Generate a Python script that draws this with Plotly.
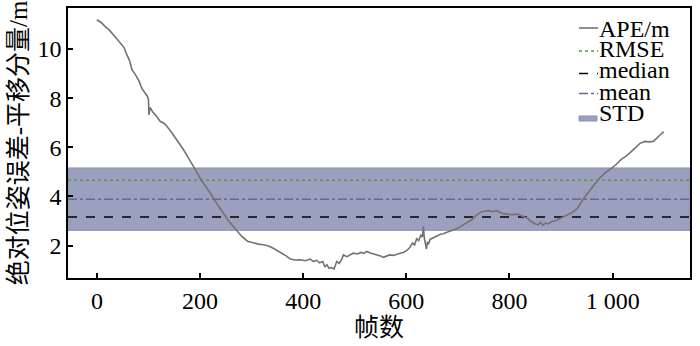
import plotly.graph_objects as go

frames = [0, 8, 16, 25, 35, 42, 48, 53, 58, 63, 68, 75, 82, 87, 93, 98, 100, 101, 103, 108,
          115, 123, 130, 136, 145, 155, 162, 168, 176, 184, 192, 200, 210, 220, 232, 245, 255,
          265, 273, 281, 292, 303, 313, 323, 333, 342, 350, 359, 367, 375, 385, 394, 404, 414,
          420, 426, 432, 438, 442, 446, 450, 455, 460, 465, 470, 475, 478, 485, 491, 497, 505,
          512, 518, 523, 530, 537, 545, 550, 555, 562, 568, 575, 582, 588, 594, 601, 607, 612,
          616, 620, 624, 628, 631, 633, 635, 637, 639, 641, 643, 646, 652, 658, 665, 672, 680,
          691, 700, 710, 718, 727, 735, 742, 746, 752, 760, 768, 775, 782, 788, 795, 805, 815,
          824, 830, 836, 840, 845, 850, 856, 860, 865, 870, 875, 882, 890, 898, 906, 914, 922,
          930, 936, 943, 950, 959, 967, 975, 985, 998, 1008, 1017, 1025, 1034, 1044, 1053,
          1063, 1070, 1079, 1085, 1092, 1099]
ape = [11.19, 11.08, 10.92, 10.75, 10.51, 10.33, 10.18, 10.05, 9.77, 9.55, 9.16, 8.95, 8.68,
       8.41, 8.22, 8.07, 7.95, 7.32, 7.62, 7.45, 7.28, 7.05, 6.98, 6.85, 6.60, 6.31, 6.10, 5.90,
       5.62, 5.36, 5.05, 4.75, 4.45, 4.13, 3.72, 3.32, 3.02, 2.77, 2.55, 2.37, 2.18, 2.10, 2.06,
       2.03, 1.98, 1.89, 1.80, 1.69, 1.58, 1.45, 1.41, 1.42, 1.38, 1.45, 1.35, 1.40, 1.30, 1.35,
       1.14, 1.22, 1.08, 1.10, 1.05, 1.35, 1.28, 1.45, 1.62, 1.55, 1.62, 1.69, 1.66, 1.72, 1.68,
       1.76, 1.70, 1.66, 1.62, 1.58, 1.52, 1.58, 1.62, 1.60, 1.66, 1.69, 1.72, 1.80, 1.93, 2.10,
       2.02, 2.28, 2.20, 2.42, 2.35, 2.77, 2.30, 2.10, 1.86, 2.15, 2.05, 2.25, 2.30, 2.38, 2.45,
       2.48, 2.55, 2.62, 2.70, 2.84, 2.95, 3.05, 3.22, 3.33, 3.38, 3.40, 3.42, 3.38, 3.42, 3.35,
       3.30, 3.28, 3.26, 3.28, 3.22, 3.15, 3.10, 3.00, 2.95, 2.88, 2.85, 2.95, 2.82, 2.92, 2.88,
       2.98, 3.02, 3.10, 3.18, 3.25, 3.35, 3.48, 3.65, 3.90, 4.10, 4.34, 4.55, 4.75, 4.95, 5.15,
       5.32, 5.52, 5.62, 5.78, 5.98, 6.16, 6.24, 6.22, 6.24, 6.38, 6.50, 6.64]

rmse = 4.66
median = 3.16
mean = 3.89
std = 1.27

x_range = [-56, 1150]
y_range = [0.68, 11.67]
x_tickvals = [0, 200, 400, 600, 800, 1000]
x_ticktext = ["0", "200", "400", "600", "800", "1 000"]
y_tickvals = [2, 4, 6, 8, 10]

legend_names = ["APE/m", "RMSE", "median", "mean", "STD"]

C_APE = "#7a6f6f"
C_RMSE = "#5e9a3e"
C_MED = "black"
C_MEAN = "#5c6a9c"
C_STD = "#9ba0bf"
C_STD_EDGE = "#8a90b4"

fig = go.Figure()

fig.add_trace(go.Scatter(
    x=[x_range[0], x_range[1], x_range[1], x_range[0], x_range[0]],
    y=[mean - std, mean - std, mean + std, mean + std, mean - std],
    fill="toself", fillcolor=C_STD, mode="lines",
    line=dict(color=C_STD_EDGE, width=1), name="STD", showlegend=False))
fig.add_trace(go.Scatter(x=x_range, y=[rmse, rmse], mode="lines", name="RMSE",
                         line=dict(color=C_RMSE, width=1.5, dash="dot"), showlegend=False))
fig.add_trace(go.Scatter(x=x_range, y=[median, median], mode="lines", name="median",
                         line=dict(color=C_MED, width=1.5, dash="dash"), showlegend=False))
fig.add_trace(go.Scatter(x=x_range, y=[mean, mean], mode="lines", name="mean",
                         line=dict(color=C_MEAN, width=1.5, dash="dashdot"), showlegend=False))
fig.add_trace(go.Scatter(x=frames, y=ape, mode="lines", name="APE/m",
                         line=dict(color=C_APE, width=1.6), showlegend=False))

# ---- hand-drawn legend (pixel layout converted to axis-domain fractions) ----
L, R, T, B = 68, 690, 8, 278
W, H = R - L, B - T
def dx(px):
    return (px - L) / W
def dy(py):
    return (B - py) / H

text_y = [28.5, 49.0, 70.0, 91.5, 113.0]
sym_y = [28.0, 51.0, 73.5, 93.5]
sym_styles = [(C_APE, "solid"), (C_RMSE, "dot"), (C_MED, "dash"), (C_MEAN, "dashdot")]
shapes = []
for (col, dash), sy in zip(sym_styles, sym_y):
    shapes.append(dict(type="line", xref="x domain", yref="y domain",
                       x0=dx(579), x1=dx(598), y0=dy(sy), y1=dy(sy),
                       line=dict(color=col, width=1.6, dash=dash)))
shapes.append(dict(type="rect", xref="x domain", yref="y domain",
                   x0=dx(579), x1=dx(597), y0=dy(121), y1=dy(116),
                   fillcolor=C_STD, line=dict(color=C_STD_EDGE, width=1)))
annotations = []
for name, ty in zip(legend_names, text_y):
    annotations.append(dict(xref="x domain", yref="y domain", x=dx(598), y=dy(ty),
                            xanchor="left", yanchor="middle", showarrow=False,
                            text=name, font=dict(size=24), borderpad=0))

font_fam = "Liberation Serif, Noto Sans CJK SC, serif"
fig.update_layout(
    width=700, height=346,
    margin=dict(l=L, r=700 - R, t=T, b=346 - B),
    paper_bgcolor="white", plot_bgcolor="white",
    font=dict(family=font_fam, size=24, color="black"),
    showlegend=False,
    shapes=shapes, annotations=annotations,
)
fig.update_xaxes(range=x_range, tickvals=x_tickvals, ticktext=x_ticktext,
                 showline=True, mirror=True, linecolor="black", linewidth=1.5,
                 ticks="inside", ticklen=5, tickwidth=1.5, tickcolor="black",
                 showgrid=False, zeroline=False, automargin=False,
                 title=dict(text="帧数", font=dict(size=25), standoff=6),
                 tickfont=dict(size=24))
fig.update_yaxes(range=y_range, tickvals=y_tickvals,
                 showline=True, mirror=True, linecolor="black", linewidth=1.5,
                 ticks="inside", ticklen=5, tickwidth=1.5, tickcolor="black",
                 showgrid=False, zeroline=False, automargin=False,
                 title=dict(text="绝对位姿误差-平移分量/m", font=dict(size=25), standoff=3),
                 tickfont=dict(size=24))

fig.write_html("out.html", config={"displayModeBar": False},
               post_script="document.body.style.margin='0';")
